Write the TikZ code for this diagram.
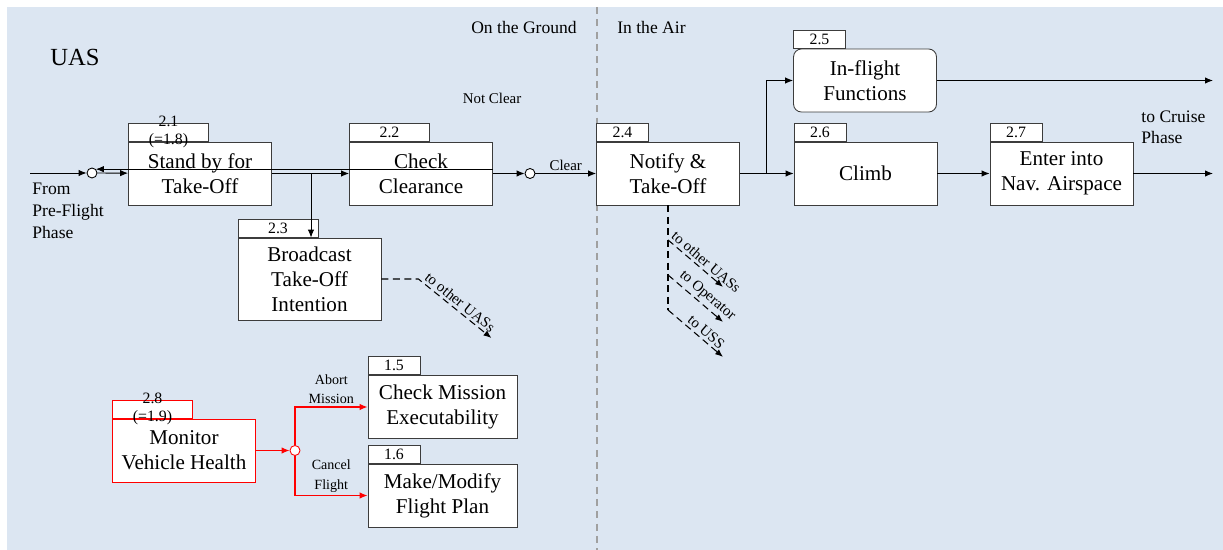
\documentclass[tikz,border=0pt]{standalone}
\usepackage{fontspec}
\setmainfont{Liberation Serif}
\usetikzlibrary{arrows.meta}
\usetikzlibrary{positioning}
\definecolor{uasbg}{RGB}{220,230,242}
\definecolor{sepgray}{RGB}{160,160,160}
\definecolor{boxgray}{RGB}{60,60,60}
\tikzset{fn/.style = {draw=boxgray, fill=white, align=center, inner sep=0, minimum width=2.86cm, minimum height=1.26cm, font=\fontsize{12}{14.2}\selectfont}}
\tikzset{fnum/.style = {draw=boxgray, fill=white, anchor=south west, inner sep=0, minimum width=1.04cm, minimum height=0.36cm, font=\fontsize{9}{10}\selectfont}}
\tikzset{widetab/.style = {minimum width=1.6cm}}
\tikzset{junc/.style = {draw, fill=white, circle, inner sep=0, minimum size=0.2cm}}
\tikzset{lbl/.style = {font=\fontsize{8.5}{10}\selectfont, inner sep=1.5pt}}
\tikzset{flow/.style = {-{Latex[length=4.5pt, width=3.6pt]}}}
\tikzset{dsh/.style = {dash pattern=on 4pt off 2.5pt, line width=0.6pt}}
\tikzset{redflow/.style = {flow, draw=red, line width=0.6pt}}

\begin{document}
\begin{tikzpicture}[x=0.02cm, y=-0.02cm, line width=0.5pt]
    \useasboundingbox (0, 0) rectangle (1223, 550);
    \fill [uasbg] (7, 7) rectangle (1223, 550);
    \draw [sepgray, line width=1pt, dash pattern=on 4pt off 3pt] (597, 7) -- (597, 550);

    \node [font=\fontsize{14}{16}\selectfont] (uas) at (75, 57) {UAS};
    \node [font=\fontsize{10}{12}\selectfont, anchor=east] (ground) at (583, 27) {On the Ground};
    \node [font=\fontsize{10}{12}\selectfont, anchor=west] (air) at (611, 27) {In the Air};
    \node [lbl] (notclear) at (492, 98) {Not Clear};
    \node [font=\fontsize{10}{12.5}\selectfont, align=left, anchor=north west, inner sep=0] (from) at (32, 183) {From\\Pre-Flight\\Phase};
    \node [font=\fontsize{10}{12}\selectfont, align=left, anchor=west, inner sep=0] (cruise) at (1141, 127) {to Cruise\\Phase};

    % functions
    \node [fn] (s21) at (200, 173.5) {Stand by for\\Take-Off};
    \node [fn] (s22) at (421, 173.5) {Check\\Clearance};
    \node [fn, minimum height=1.64cm] (s23) at (309.5, 279) {Broadcast\\Take-Off\\Intention};
    \node [fn] (s24) at (668, 173.5) {Notify \&\\Take-Off};
    \node [fn, rounded corners=4.5pt] (s25) at (865, 80.5) {In-flight\\Functions};
    \node [fn] (s26) at (865.5, 173.5) {Climb};
    \node [fn] (s27) at (1061.5, 173.5) {Enter into\\Nav. Airspace};
    \node [fn, draw=red] (s28) at (184, 450.5) {Monitor\\Vehicle Health};
    \node [fn, minimum width=2.98cm] (s15) at (442.5, 407) {Check Mission\\Executability};
    \node [fn, minimum width=2.98cm] (s16) at (442.5, 495.5) {Make/Modify\\Flight Plan};

    % number tabs
    \node [fnum, widetab] (n21) at (s21.north west) {};
    \node [fnum, widetab] (n22) at (s22.north west) {2.2};
    \node [fnum, widetab] (n23) at (s23.north west) {2.3};
    \node [fnum] (n24) at (s24.north west) {2.4};
    \node [fnum] (n25) at (s25.north west) {2.5};
    \node [fnum] (n26) at (s26.north west) {2.6};
    \node [fnum] (n27) at (s27.north west) {2.7};
    \node [fnum, widetab, draw=red] (n28) at (s28.north west) {};
    \node [fnum] (n15) at (s15.north west) {1.5};
    \node [fnum] (n16) at (s16.north west) {1.6};
    \node [font=\fontsize{9}{10}\selectfont, align=center, inner sep=0] (n21t) at (n21.center) {2.1\\(=1.8)};
    \node [font=\fontsize{9}{10}\selectfont, align=center, inner sep=0] (n28t) at (n28.center) {2.8\\(=1.9)};

    % junctions
    \node [junc] (j1) at (92, 173) {};
    \node [junc] (j2) at (530, 173.5) {};
    \node [junc, draw=red] (j3) at (295, 450.5) {};

    % flows on the ground
    \coordinate (pre) at (30, 173);
    \coordinate (b1) at (311, 173.5);
    \draw [flow] (pre) -- (j1);
    \draw [flow] (j1) -- (s21);
    \draw [flow] (s21) -- (s22);
    \draw [flow] (s22.east |- j1.north east) -- (j1.north east);
    \draw [flow] (b1) -- (s23.north -| b1);
    \draw [flow] (s22) -- (j2);
    \draw [flow] (j2) -- node [lbl, above] {Clear} (s24);
    \draw [flow, dsh] (s23.east) -- ++(37, 0) -- ++(73, 59) node [lbl, midway, sloped, above=0pt] {to other UASs};

    % flows in the air
    \coordinate (b2) at (766, 173.5);
    \coordinate (cr1) at (1213, 80.5);
    \coordinate (cr2) at (1213, 173.5);
    \draw [flow] (s24) -- (s26);
    \draw [flow] (b2) |- (s25);
    \draw [flow] (s25) -- (cr1);
    \draw [flow] (s26) -- (s27);
    \draw [flow] (s27) -- (cr2);
    \draw [dsh] (s24.south) -- ++(0, 104.5);
    \draw [flow, dsh] (s24.south) ++(0, 34.5) -- ++(55, 47) node [lbl, pos=0.6, sloped, above=0pt] {to other UASs};
    \draw [flow, dsh] (s24.south) ++(0, 69.5) -- ++(55, 47) node [lbl, pos=0.6, sloped, above=0pt] {to Operator};
    \draw [flow, dsh] (s24.south) ++(0, 104.5) -- ++(55, 47) node [lbl, pos=0.6, sloped, above=0pt] {to USS};

    % vehicle health
    \draw [redflow] (s28) -- (j3);
    \draw [redflow] (j3) |- node [lbl, pos=0.75, above, align=center, text=black, font=\fontsize{8}{11}\selectfont] {Abort\\Mission} (s15);
    \draw [redflow] (j3) |- node [lbl, pos=0.75, above, align=center, text=black, font=\fontsize{8}{11}\selectfont] {Cancel\\Flight} (s16);
  \end{tikzpicture}
\end{document}
